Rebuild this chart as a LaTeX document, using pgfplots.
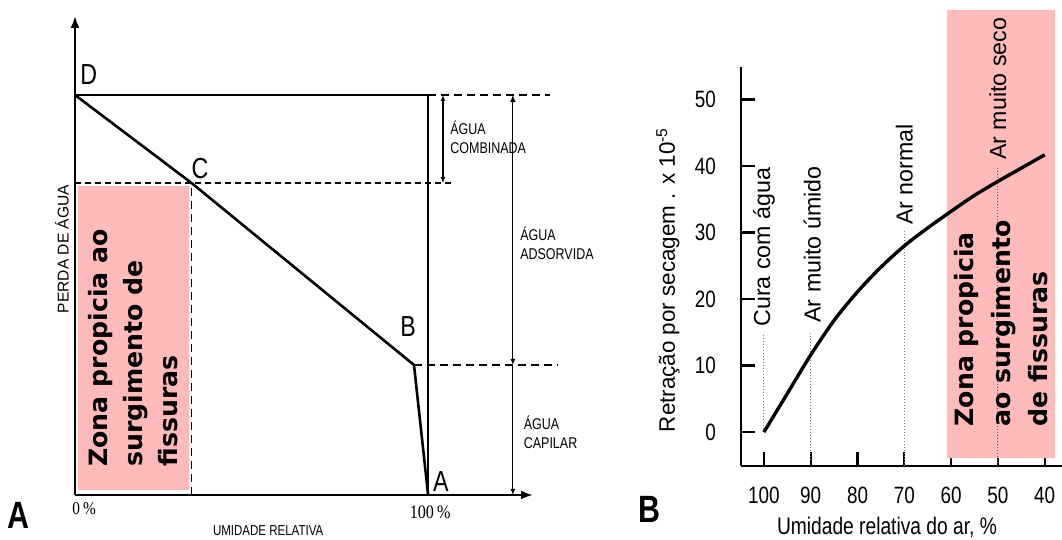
\documentclass[border=0pt]{standalone}
\usepackage{fontspec}
\setmainfont{Liberation Sans}
\newfontfamily\narrow[FakeStretch=0.8]{Liberation Sans}
\newfontfamily\narrowserif[FakeStretch=0.85]{Liberation Serif}
\newfontfamily\zonefont{DejaVu Sans}
\usepackage{pgfplots}
\pgfplotsset{compat=1.18}
\usetikzlibrary{arrows.meta}
\definecolor{zonepink}{RGB}{255,186,186}

\begin{document}
\begin{tikzpicture}
\useasboundingbox (0,0) rectangle (531pt,270pt);

% ---------- panel A ----------
\begin{axis}[
  at={(37.5pt,22.5pt)}, anchor=south west,
  scale only axis, width=229pt, height=239.5pt,
  xmin=0, xmax=129.7, ymin=0, ymax=119.75,
  axis lines=left,
  axis line style={line width=1.1pt, -{Latex[length=6pt,width=4.5pt]}},
  xtick=\empty, ytick=\empty,
  clip=false,
]
\addplot[fill=zonepink, draw=none] coordinates {(0.8,1.2) (32.4,1.2) (32.4,77.3) (0.8,77.3) (0.8,1.2)};
\node[rotate=90, anchor=north west, align=left, inner sep=0pt,
      font=\zonefont\bfseries\fontsize{12.6}{17.5}\selectfont]
  at (axis cs:3.6,7) {Zona propicia ao\\surgimento de\\fissuras};

\addplot[black, line width=1.3pt] coordinates {(0,100) (33,78) (96,32.5) (100,0)};
\addplot[black, line width=1.2pt] coordinates {(0,100) (100,100)};
\addplot[black, line width=1.2pt] coordinates {(100,0) (100,100)};
\addplot[black, line width=1.1pt, dash pattern=on 4pt off 2.5pt] coordinates {(100,100) (134.6,100)};
\addplot[black, line width=1.1pt, dash pattern=on 3pt off 2pt] coordinates {(0,78) (107.6,78)};
\addplot[black, line width=0.9pt, dash pattern=on 4pt off 2.5pt] coordinates {(33,0) (33,78)};
\addplot[black, line width=1.1pt, dash pattern=on 4pt off 2.5pt] coordinates {(96,32.5) (136.8,32.5)};

\draw[line width=0.6pt, {Latex[length=3pt,width=2.5pt]}-{Latex[length=3pt,width=2.5pt]}]
  (axis cs:104.2,100) -- (axis cs:104.2,78);
\draw[line width=0.6pt, {Latex[length=3.5pt,width=3pt]}-{Latex[length=3pt,width=2.5pt]}]
  (axis cs:124,100) -- (axis cs:124,32.5);
\draw[line width=0.6pt, -{Latex[length=3pt,width=2.5pt]}]
  (axis cs:124,32.5) -- (axis cs:124,0);

\node[font=\narrow\fontsize{14.5}{14}\selectfont] at (axis cs:3.9,105) {D};
\node[font=\narrow\fontsize{14.5}{14}\selectfont] at (axis cs:35.4,81.7) {C};
\node[font=\narrow\fontsize{14.5}{14}\selectfont] at (axis cs:94.3,42) {B};
\node[font=\narrow\fontsize{14.5}{14}\selectfont] at (axis cs:103.6,3.4) {A};

\node[anchor=west, align=left, inner sep=0pt, font=\narrow\fontsize{7.8}{9.5}\selectfont]
  at (axis cs:106.2,89.5) {ÁGUA\\COMBINADA};
\node[anchor=west, align=left, inner sep=0pt, font=\narrow\fontsize{7.8}{9.5}\selectfont]
  at (axis cs:126,63) {ÁGUA\\ADSORVIDA};
\node[anchor=west, align=left, inner sep=0pt, font=\narrow\fontsize{7.8}{9.5}\selectfont]
  at (axis cs:127,15.7) {ÁGUA\\CAPILAR};

\node[font=\narrowserif\fontsize{9}{9}\selectfont] at (axis cs:2.6,-3.3) {0\,\%};
\node[font=\narrowserif\fontsize{9.5}{9.5}\selectfont] at (axis cs:100.6,-4.3) {100\,\%};
\node[font=\narrow\fontsize{7.2}{7}\selectfont] at (axis cs:54.7,-8.8) {UMIDADE RELATIVA};
\node[rotate=90, font=\fontsize{7.8}{8}\selectfont] at (axis cs:-3.7,61.5) {PERDA DE ÁGUA};
\node[font=\narrow\bfseries\fontsize{19}{19}\selectfont] at (axis cs:-16.1,-5) {A};
\end{axis}

% ---------- panel B ----------
\begin{axis}[
  at={(370.5pt,37pt)}, anchor=south west,
  scale only axis, width=164.5pt, height=199.5pt,
  xmin=34.6, xmax=104.9, x dir=reverse,
  ymin=-5.1, ymax=54.9,
  axis x line=bottom, axis y line=left,
  axis line style={line width=1.1pt, -},
  xtick={100,90,...,40}, ytick={0,10,...,50},
  tick align=inside,
  major tick length=7pt,
  tick style={line width=1.1pt, black},
  /pgf/number format/assume math mode=true,
  ticklabel style={font=\narrow\fontsize{11.8}{12}\selectfont},
  xticklabel style={yshift=-7pt},
  yticklabel style={xshift=-9pt},
  clip=false,
]
\addplot[fill=zonepink, draw=none] coordinates {(60.9,-3.9) (37.8,-3.9) (37.8,63.5) (60.9,63.5) (60.9,-3.9)};

\addplot[gray, line width=0.5pt, densely dotted] coordinates {(100,0) (100,14.6)};
\addplot[gray, line width=0.5pt, densely dotted] coordinates {(90,-4.2) (90,15)};
\addplot[gray, line width=0.5pt, densely dotted] coordinates {(70,-5.1) (70,30.4)};
\addplot[gray!70!black, line width=0.5pt, densely dotted] coordinates {(50,-5.1) (50,39.7)};

\node[rotate=90, anchor=west, inner sep=0pt, font=\fontsize{11.6}{12}\selectfont] at (axis cs:100,15.8) {Cura com água};
\node[rotate=90, anchor=west, inner sep=0pt, font=\fontsize{11.6}{12}\selectfont] at (axis cs:89.7,16.4) {Ar muito úmido};
\node[rotate=90, anchor=west, inner sep=0pt, font=\fontsize{11.6}{12}\selectfont] at (axis cs:70,31.1) {Ar normal};
\node[rotate=90, anchor=west, inner sep=0pt, font=\fontsize{11.6}{12}\selectfont] at (axis cs:50,40.9) {Ar muito seco};

\node[rotate=90, anchor=north west, align=left, inner sep=0pt,
      font=\zonefont\bfseries\fontsize{12.6}{18.5}\selectfont]
  at (axis cs:59.5,0.8) {Zona propicia\\ao surgimento\\de fissuras};

\addplot[black, line width=1.7pt, smooth] coordinates {
  (100,0) (95,5.8) (90,11.6) (85,16.8) (80,21.1) (75,24.8) (70,28)
  (65,30.7) (60,33.2) (55,35.6) (50,37.7) (45,39.7) (40,41.7)
};

\node[rotate=90, font=\fontsize{11.2}{12}\selectfont] at (axis cs:120.5,22.9) {Retração por secagem . x 10\textsuperscript{-5}};
\node[font=\narrow\fontsize{12}{12}\selectfont] at (axis cs:73.7,-14.3) {Umidade relativa do ar, \%};
\node[font=\narrow\bfseries\fontsize{19}{19}\selectfont] at (axis cs:124.4,-11.7) {B};
\end{axis}
\end{tikzpicture}
\end{document}
